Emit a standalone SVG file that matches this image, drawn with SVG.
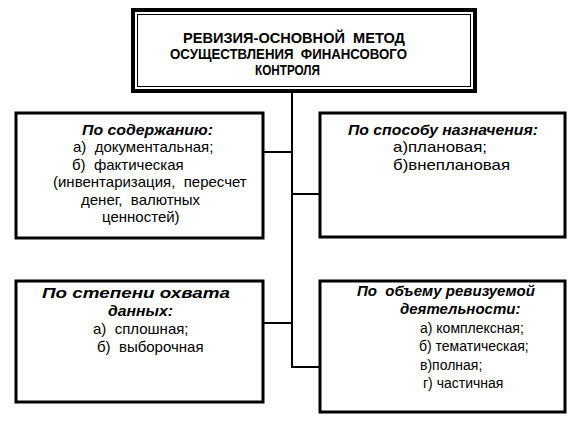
<svg xmlns="http://www.w3.org/2000/svg" width="577" height="421" viewBox="0 0 577 421">
<style>
.box{fill:#fff;stroke:#000;stroke-width:3}
.outer{fill:#fff;stroke:#000;stroke-width:4}
.inner{fill:none;stroke:#000;stroke-width:1}
.ln{stroke:#000;stroke-width:2;fill:none}
text{font-family:"Liberation Sans",Arial,sans-serif;font-size:15px;fill:#000;white-space:pre}
.hd{font-weight:bold}
.t{font-weight:bold;font-style:italic}
.s{font-size:14px}
</style>
<rect width="577" height="421" fill="#fff"/>
<g id="connectors">
<line class="ln" x1="292" y1="91" x2="292" y2="367"/>
<line class="ln" x1="263" y1="152" x2="292" y2="152"/>
<line class="ln" x1="292" y1="194" x2="320" y2="194"/>
<line class="ln" x1="263" y1="323" x2="292" y2="323"/>
<line class="ln" x1="291" y1="367" x2="320" y2="367"/>
</g>
<g id="top">
<rect class="outer" x="133" y="10" width="342" height="81"/>
<rect class="inner" x="137.5" y="14.5" width="333" height="72"/>
<text class="hd" x="183" y="43" textLength="222" lengthAdjust="spacingAndGlyphs">РЕВИЗИЯ-ОСНОВНОЙ  МЕТОД</text>
<text class="hd" x="170" y="59" textLength="237" lengthAdjust="spacingAndGlyphs">ОСУЩЕСТВЛЕНИЯ  ФИНАНСОВОГО</text>
<text class="hd" x="255" y="75" textLength="65" lengthAdjust="spacingAndGlyphs">КОНТРОЛЯ</text>
</g>
<g id="content">
<rect class="box" x="16" y="113" width="247" height="125"/>
<text class="t" x="82" y="135" textLength="131" lengthAdjust="spacingAndGlyphs">По содержанию:</text>
<text x="73" y="152">а)  документальная;</text>
<text x="72" y="170">б)  фактическая</text>
<text x="53" y="187">(инвентаризация,  пересчет</text>
<text x="81" y="205">денег,  валютных</text>
<text x="102" y="222">ценностей)</text>
</g>
<g id="purpose">
<rect class="box" x="320" y="113" width="245" height="124"/>
<text class="t" x="348" y="135" textLength="190" lengthAdjust="spacingAndGlyphs">По способу назначения:</text>
<text x="393" y="152" textLength="94" lengthAdjust="spacingAndGlyphs">а)плановая;</text>
<text x="393" y="170" textLength="117" lengthAdjust="spacingAndGlyphs">б)внеплановая</text>
</g>
<g id="coverage">
<rect class="box" x="16" y="281" width="247" height="121"/>
<text class="t" x="42" y="298" textLength="188" lengthAdjust="spacingAndGlyphs">По степени охвата</text>
<text class="t" x="108" y="316" textLength="65" lengthAdjust="spacingAndGlyphs">данных:</text>
<text x="93" y="334">а)  сплошная;</text>
<text x="97" y="352">б)  выборочная</text>
</g>
<g id="scope">
<rect class="box" x="320" y="281" width="245" height="131"/>
<text class="t" x="357" y="296" textLength="178" lengthAdjust="spacingAndGlyphs">По  объему ревизуемой</text>
<text class="t" x="400" y="314">деятельности:</text>
<text class="s" x="420" y="333">а) комплексная;</text>
<text class="s" x="419" y="351">б) тематическая;</text>
<text class="s" x="420" y="370">в)полная;</text>
<text class="s" x="423" y="388">г) частичная</text>
</g>
</svg>
